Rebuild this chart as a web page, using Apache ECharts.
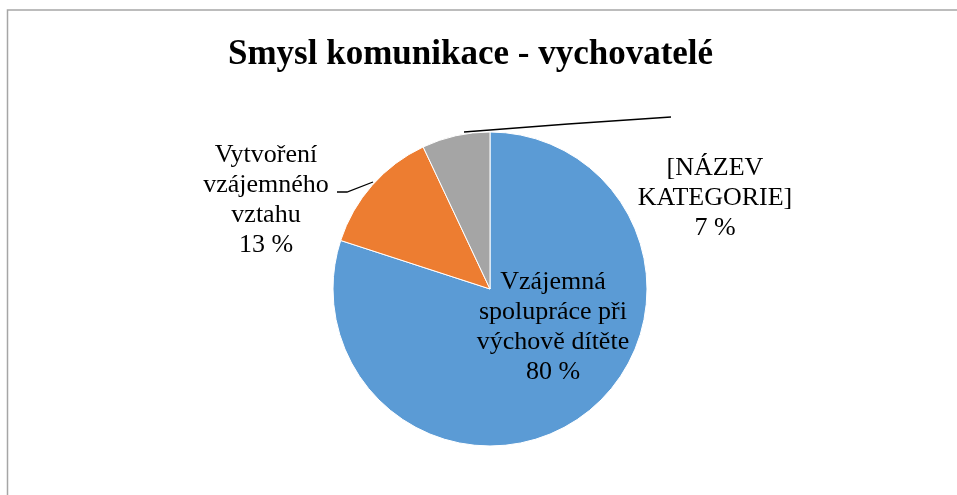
<!DOCTYPE html>
<html>
<head>
<meta charset="utf-8">
<script src="https://cdn.jsdelivr.net/npm/echarts@6/dist/echarts.min.js"></script>
<style>
	html, body { margin: 0; padding: 0; background: #fff; }
	#chart { width: 957px; height: 495px; }
</style>
</head>
<body>
<div id="chart"></div>
<script>
	// kategorie a hodnoty (%)
	const categories = [
		'Vzájemná\nspolupráce při\nvýchově dítěte',
		'Vytvoření\nvzájemného\nvztahu',
		'[NÁZEV\nKATEGORIE]'
	];
	const values = [80, 13, 7];
	const colors = ['#5B9BD5', '#ED7D31', '#A5A5A5'];

	// umístění popisků (střed textu) a vodicí čáry
	const labelPos = [
		[553, 327],
		[266, 200],
		[715, 198]
	];
	const guideLines = [
		null,
		[[373, 182], [347, 192], [337, 192]],
		[[464, 132], [568, 124], [671, 117]]
	];

	const chart = echarts.init(document.getElementById('chart'));
	const fontFamily = '"Liberation Serif", "Times New Roman", serif';

	const option = {
		animation: false,
		title: {
			text: 'Smysl komunikace - vychovatelé',
			left: 223,
			top: 32,
			textStyle: {
				fontFamily: fontFamily,
				fontWeight: 'bold',
				fontSize: 35,
				color: '#000'
			}
		},
		graphic: [{
			type: 'polyline',
			silent: true,
			shape: { points: [[7.5, 495], [7.5, 10], [957, 10]] },
			style: { stroke: '#a6a6a6', lineWidth: 1.5, fill: null }
		}],
		series: [{
			type: 'pie',
			center: [490, 289],
			radius: 157,
			startAngle: 90,
			clockwise: true,
			avoidLabelOverlap: false,
			itemStyle: {
				borderColor: '#fff',
				borderWidth: 1
			},
			label: {
				show: true,
				position: 'outside',
				fontFamily: fontFamily,
				fontSize: 26,
				lineHeight: 30,
				color: '#000',
				align: 'center',
				formatter: function (p) {
					return p.name + '\n' + p.value + ' %';
				}
			},
			labelLine: {
				show: true,
				lineStyle: { color: '#000', width: 1.3 }
			},
			labelLayout: function (params) {
				const i = params.dataIndex;
				let res = {
					x: labelPos[i][0],
					y: labelPos[i][1],
					align: 'center',
					verticalAlign: 'middle'
				};
				if (guideLines[i]) res.labelLinePoints = guideLines[i];
				return res;
			},
			data: categories.map(function (name, i) {
				let item = {
					name: name,
					value: values[i],
					itemStyle: { color: colors[i] }
				};
				if (i === 0) {
					item.label = { position: 'inside' };
					item.labelLine = { show: false };
				}
				return item;
			})
		}]
	};
	chart.setOption(option);
</script>
</body>
</html>
